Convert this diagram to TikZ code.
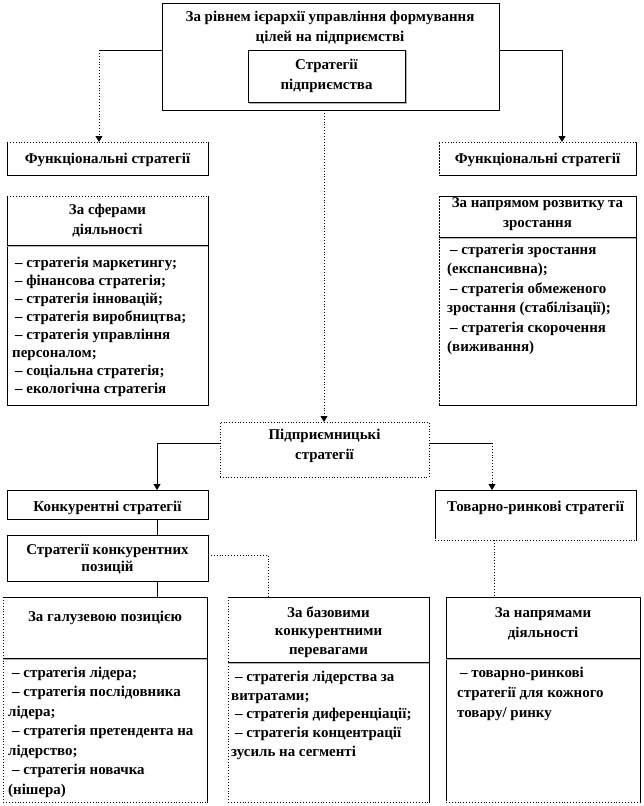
\documentclass[tikz,border=0pt]{standalone}
\usepackage{fontspec}
\setmainfont{Liberation Serif}
\usetikzlibrary{arrows.meta}
\newcommand{\fs}[1]{\fontsize{15}{#1}\selectfont}
\begin{document}
\begin{tikzpicture}[x=1bp,y=-1bp,
  font=\bfseries\fs{19},
  box/.style={draw, line width=0.8pt, anchor=north west, inner sep=0, outer sep=0},
  dbox/.style={box, dotted},
  txt/.style={align=center, inner sep=0, anchor=base},
  lst/.style={align=left, inner sep=0, anchor=base west},
  arr/.style={-{Triangle[width=7bp,length=6bp]}},
  dots/.style={dotted, line width=0.9pt},
  wipe/.style={white, line width=1.6pt},
  ln/.style={line width=0.8pt},
  shade/.style={gray!60, line width=1pt}]
\useasboundingbox (0,0) rectangle (644,806);

% ---------- top block ----------
\node[box, minimum width=337bp, minimum height=107bp] (top) at (162,3) {};
\node[txt, font=\bfseries\fs{21}] (topT) at (330,42) {За рівнем ієрархії управління формування\\цілей на підприємстві};
\node[box, minimum width=157bp, minimum height=52bp] (inner) at (248,50) {};
\draw[shade] ([xshift=1.2bp,yshift=-1.2bp]inner.north east) -- ([xshift=1.2bp,yshift=-1.2bp]inner.south east) -- ([xshift=1.2bp,yshift=-1.2bp]inner.south west);
\node[txt, font=\bfseries\fs{20}] (innerT) at (326.5,89) {Стратегії\\підприємства};

% ---------- left functional ----------
\node[box, minimum width=201bp, minimum height=33bp] (funcL) at (7,142) {};
\draw[wipe] (funcL.north west) -- (funcL.north east);
\draw[dots] (funcL.north west) -- (funcL.north east);
\node[txt] (funcLT) at (107.5,163) {Функціональні стратегії};
\node[box, minimum width=201bp, minimum height=209bp] (sphL) at (7,196) {};
\draw[wipe] (sphL.north west) -- (sphL.north east);
\draw[dots] (sphL.north west) -- (sphL.north east);
\draw[ln] (sphL.west |- 0,245) -- (sphL.east |- 0,245);
\draw[shade] ([yshift=-1.2bp]sphL.west |- 0,245) -- ([yshift=-1.2bp]sphL.east |- 0,245);
\node[txt, font=\bfseries\fs{20}] (sphLT) at (107.5,234) {За сферами\\діяльності};
\node[lst, font=\bfseries\fs{18}] (sphLL) at (12,393) {\hspace{3bp}– стратегія маркетингу;\\\hspace{3bp}– фінансова стратегія;\\\hspace{3bp}– стратегія інновацій;\\\hspace{3bp}– стратегія виробництва;\\\hspace{3bp}– стратегія управління\\персоналом;\\\hspace{3bp}– соціальна стратегія;\\\hspace{3bp}– екологічна стратегія};

% ---------- right functional ----------
\node[box, minimum width=197bp, minimum height=33bp] (funcR) at (439,142) {};
\draw[wipe] (funcR.north west) -- (funcR.north east) (funcR.north west) -- (funcR.south west);
\draw[dots] (funcR.north west) -- (funcR.north east);
\draw[ln, dashed, dash pattern=on 2bp off 1bp] (funcR.north west) -- (funcR.south west);
\node[txt] (funcRT) at (537.5,163) {Функціональні стратегії};
\node[box, minimum width=197bp, minimum height=209bp] (dirR) at (439,196) {};
\draw[wipe] (dirR.north west) -- (dirR.south west);
\draw[ln, dashed, dash pattern=on 2bp off 1bp] (dirR.north west) -- (dirR.south west);
\draw[ln] (dirR.west |- 0,237) -- (dirR.east |- 0,237);
\draw[shade] ([yshift=-1.2bp]dirR.west |- 0,237) -- ([yshift=-1.2bp]dirR.east |- 0,237);
\node[txt, font=\bfseries\fs{20}] (dirRT) at (537.5,227) {За напрямом розвитку та\\зростання};
\node[lst, font=\bfseries\fs{19.5}] (dirRL) at (447,351.5) {\hspace{3bp}– стратегія зростання\\(експансивна);\\\hspace{3bp}– стратегія обмеженого\\зростання (стабілізації);\\\hspace{3bp}– стратегія скорочення\\(виживання)};

% ---------- entrepreneurial ----------
\node[dbox, minimum width=209bp, minimum height=55bp] (pidpr) at (220,422) {};
\node[txt, font=\bfseries\fs{20}] (pidprT) at (324.5,459) {Підприємницькі\\стратегії};

% ---------- competitive ----------
\node[box, minimum width=201bp, minimum height=29bp] (konk) at (7,490) {};
\node[txt] (konkT) at (107.5,511) {Конкурентні стратегії};
\node[box, minimum width=201bp, minimum height=46bp] (poz) at (7,535) {};
\node[txt, font=\bfseries\fs{17}] (pozT) at (107.5,571) {Стратегії конкурентних\\позицій};

% ---------- product-market ----------
\node[box, minimum width=201bp, minimum height=50bp] (tovar) at (435,490) {};
\draw[wipe] (tovar.south west) -- (tovar.south east);
\draw[dots] (tovar.south west) -- (tovar.south east);
\node[txt] (tovarT) at (535.5,511) {Товарно-ринкові стратегії};

% ---------- bottom boxes ----------
\node[box, minimum width=204bp, minimum height=205bp] (galuz) at (3,597) {};
\draw[wipe] (galuz.north west) -- (galuz.south west) -- (galuz.south east);
\draw[dots] (galuz.north west) -- (galuz.south west) -- (galuz.south east);
\draw[ln] (galuz.west |- 0,658) -- (galuz.east |- 0,658);
\draw[shade] ([yshift=-1.2bp]galuz.west |- 0,658) -- ([yshift=-1.2bp]galuz.east |- 0,658);
\node[txt] (galuzT) at (105,621) {За галузевою позицією};
\node[lst, font=\bfseries\fs{19.5}] (galuzL) at (8,794) {\hspace{4bp}– стратегія лідера;\\\hspace{4bp}– стратегія послідовника\\лідера;\\\hspace{4bp}– стратегія претендента на\\лідерство;\\\hspace{4bp}– стратегія новачка\\(нішера)};

\node[box, minimum width=201bp, minimum height=205bp] (baz) at (228,597) {};
\draw[wipe] (baz.north west) -- (baz.south west) -- (baz.south east);
\draw[dots] (baz.north west) -- (baz.south west) -- (baz.south east);
\draw[ln] (baz.west |- 0,662) -- (baz.east |- 0,662);
\draw[shade] ([yshift=-1.2bp]baz.west |- 0,662) -- ([yshift=-1.2bp]baz.east |- 0,662);
\node[txt, font=\bfseries\fs{18.5}] (bazT) at (328.5,654) {За базовими\\конкурентними\\перевагами};
\node[lst, font=\bfseries\fs{18.8}] (bazL) at (231,756.2) {\hspace{4bp}– стратегія лідерства за\\витратами;\\\hspace{4bp}– стратегія диференціації;\\\hspace{4bp}– стратегія концентрації\\зусиль на сегменті};

\node[box, minimum width=194bp, minimum height=205bp] (napr) at (446,597) {};
\draw[wipe] (napr.south west) -- (napr.south east);
\draw[dots] (napr.south west) -- (napr.south east);
\draw[ln] (napr.west |- 0,658) -- (napr.east |- 0,658);
\draw[shade] ([yshift=-1.2bp]napr.west |- 0,658) -- ([yshift=-1.2bp]napr.east |- 0,658);
\node[txt, font=\bfseries\fs{20}] (naprT) at (543,637) {За напрямами\\діяльності};
\node[lst, font=\bfseries\fs{20}] (naprL) at (457,717) {\hspace{3bp}– товарно-ринкові\\стратегії для кожного\\товару/ ринку};

% ---------- connectors ----------
\coordinate (cL) at (99,50);
\coordinate (cR) at (562,50);
\draw[ln] (top.west |- cL) -- (cL);
\draw[dots, arr] (cL) -- (cL |- funcL.north);
\draw[ln, arr] (top.east |- cR) -- (cR) -- (cR |- funcR.north);
\coordinate (cC) at (324,0);
\draw[dots, arr] (cC |- top.south) -- (cC |- pidpr.north);

\coordinate (pL) at (157,443);
\coordinate (pR) at (492,443);
\draw[ln, arr] (pidpr.west |- pL) -- (pL) -- (pL |- konk.north);
\draw[ln] (pidpr.east |- pR) -- (pR);
\draw[dots, arr] (pR) -- (pR |- tovar.north);

\draw[ln] (pL |- konk.south) -- (pL |- poz.north);
\draw[ln] (pL |- poz.south) -- (pL |- galuz.north);
\coordinate (zB) at (268,555);
\draw[dots] (poz.east |- zB) -- (zB) -- (zB |- baz.north);
\coordinate (tN) at (494,0);
\draw[dots] (tN |- tovar.south) -- (tN |- napr.north);
\end{tikzpicture}
\end{document}
